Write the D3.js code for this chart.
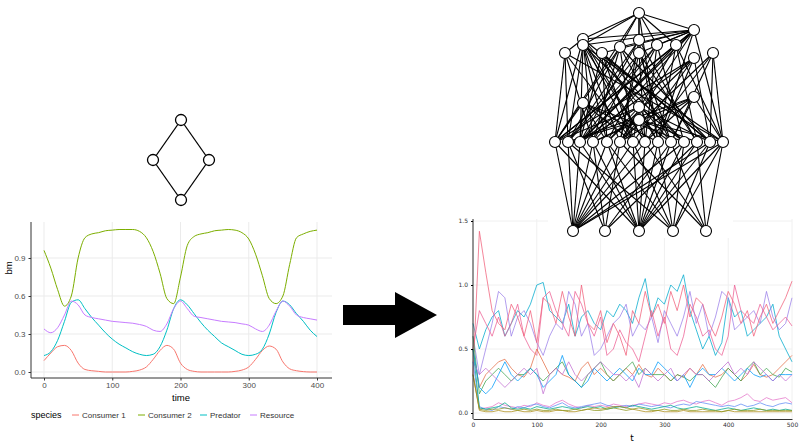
<!DOCTYPE html>
<html><head><meta charset="utf-8">
<script src="https://cdn.jsdelivr.net/npm/d3@7"></script>
<style>body{margin:0;background:#fff}</style></head>
<body><svg id="c" width="799" height="445"></svg>
<script>
// ---- left chart data (time step 10) ----
var leftTimes = d3.range(0, 401, 10);
var consumer1 = [0.09,0.15,0.2,0.21,0.17,0.07,0.02,0.01,0.005,0,0,0,0,0.005,0.015,0.04,0.1,0.17,0.21,0.18,0.07,0.02,0.005,0,0,0,0,0,0.005,0.015,0.04,0.1,0.17,0.205,0.18,0.08,0.025,0.01,0.003,0,0];
var consumer2 = [0.96,0.82,0.65,0.52,0.6,0.9,1.06,1.09,1.1,1.115,1.12,1.125,1.125,1.125,1.11,1.06,0.95,0.78,0.58,0.54,0.75,1.0,1.07,1.09,1.1,1.115,1.12,1.125,1.12,1.1,1.05,0.93,0.76,0.58,0.54,0.6,0.85,1.06,1.09,1.11,1.12];
var predator = [0.13,0.16,0.25,0.4,0.55,0.57,0.5,0.43,0.37,0.31,0.26,0.22,0.19,0.16,0.14,0.13,0.14,0.2,0.33,0.5,0.57,0.53,0.46,0.39,0.33,0.28,0.23,0.2,0.17,0.14,0.13,0.14,0.18,0.3,0.47,0.56,0.53,0.46,0.4,0.33,0.28];
var resource = [0.34,0.31,0.35,0.45,0.56,0.53,0.45,0.43,0.42,0.41,0.40,0.395,0.39,0.385,0.375,0.36,0.33,0.32,0.38,0.5,0.56,0.5,0.44,0.43,0.42,0.41,0.40,0.395,0.39,0.38,0.37,0.34,0.32,0.37,0.48,0.56,0.52,0.45,0.43,0.42,0.41];
var speciesNames = ["Consumer 1","Consumer 2","Predator","Resource"];
var speciesColors = ["#f8766d","#7cae00","#00bfc4","#c77cff"];
var leftXTicks = [0,100,200,300,400];
var leftYTicks = [0,0.3,0.6,0.9];

// ---- small graph ----
var smallNodes = [[0,1],[-1,0],[1,0],[0,-1]];
var smallEdges = [[0,1],[0,2],[1,3],[2,3]];

// ---- right chart data (time step 10) ----
var rightTimes = d3.range(0, 501, 10);
var rSeries = [
 {c:"#00a9cd", v:[0.7,0.5,0.65,0.75,0.8,0.6,0.7,0.8,0.75,0.85,1.0,1.02,0.8,0.75,0.7,0.85,0.6,0.75,0.8,0.7,0.65,0.8,0.75,0.85,0.8,0.7,0.9,1.05,0.75,0.9,0.85,1.0,0.95,1.08,0.8,0.65,0.5,0.6,0.45,0.55,0.9,0.75,0.8,0.6,0.65,0.7,0.75,0.85,0.6,0.5,0.4]},
 {c:"#9b7fe8", v:[0.6,0.3,0.5,0.7,0.95,0.9,0.6,0.75,0.8,0.7,0.55,0.45,0.6,0.7,0.65,0.95,0.85,0.6,0.7,0.45,0.5,0.6,0.7,0.75,0.85,0.6,0.7,0.65,0.75,0.55,0.8,0.7,0.6,0.75,0.95,0.7,0.85,0.6,0.75,0.95,0.9,0.65,0.7,0.75,0.8,0.7,0.95,0.75,0.65,0.7,0.9]},
 {c:"#ed5e93", v:[0.5,0.8,0.7,0.6,0.75,0.6,0.7,0.85,0.6,0.5,0.45,0.9,0.95,0.8,0.7,0.6,0.95,0.85,0.7,0.6,0.75,0.45,0.5,0.65,0.55,0.5,0.4,0.6,0.8,0.6,0.75,0.5,0.45,0.6,0.85,0.75,0.6,0.65,0.5,0.45,0.6,1.0,0.8,0.75,0.7,0.85,0.75,0.65,0.7,0.75,0.68]},
 {c:"#f0607a", v:[0.3,1.42,1.1,0.8,0.7,0.65,0.85,0.75,0.6,0.8,0.55,0.9,0.85,0.7,0.95,0.75,0.6,1.0,0.7,0.65,0.8,0.55,0.7,0.6,0.45,0.8,0.7,0.95,0.75,0.85,0.7,0.95,0.8,1.0,0.75,0.9,0.85,0.7,0.6,0.75,0.95,0.85,0.7,0.8,0.6,0.75,0.85,0.7,0.8,0.9,1.03]},
 {c:"#e36f47", v:[0.5,0.2,0.3,0.35,0.4,0.42,0.35,0.3,0.28,0.35,0.5,0.4,0.3,0.35,0.3,0.28,0.25,0.35,0.4,0.3,0.35,0.3,0.25,0.3,0.35,0.3,0.38,0.3,0.28,0.35,0.3,0.25,0.3,0.28,0.35,0.3,0.38,0.3,0.28,0.3,0.35,0.3,0.25,0.3,0.38,0.3,0.28,0.3,0.35,0.4,0.45]},
 {c:"#3ea44e", v:[0.6,0.15,0.25,0.3,0.35,0.3,0.25,0.3,0.3,0.35,0.3,0.25,0.3,0.35,0.4,0.3,0.25,0.2,0.3,0.35,0.4,0.3,0.25,0.3,0.35,0.4,0.3,0.35,0.3,0.3,0.3,0.25,0.3,0.28,0.25,0.3,0.3,0.25,0.2,0.28,0.35,0.3,0.25,0.35,0.4,0.3,0.35,0.3,0.28,0.35,0.32]},
 {c:"#009afa", v:[0.5,0.2,0.15,0.2,0.3,0.4,0.3,0.25,0.3,0.35,0.3,0.2,0.25,0.3,0.45,0.3,0.25,0.2,0.25,0.35,0.3,0.25,0.3,0.35,0.3,0.25,0.35,0.3,0.3,0.4,0.35,0.3,0.25,0.3,0.2,0.3,0.35,0.3,0.3,0.35,0.3,0.25,0.3,0.35,0.3,0.28,0.3,0.25,0.3,0.3,0.3]},
 {c:"#c271d2", v:[0.4,0.3,0.35,0.3,0.25,0.2,0.25,0.3,0.35,0.3,0.35,0.15,0.3,0.35,0.3,0.4,0.3,0.25,0.3,0.35,0.4,0.35,0.3,0.3,0.25,0.3,0.2,0.35,0.3,0.25,0.3,0.35,0.25,0.3,0.35,0.3,0.3,0.25,0.3,0.35,0.4,0.3,0.35,0.3,0.4,0.35,0.3,0.25,0.3,0.25,0.3]},
 {c:"#e575c9", v:[0.3,0.03,0.04,0.05,0.08,0.06,0.05,0.04,0.06,0.05,0.08,0.06,0.05,0.08,0.1,0.07,0.05,0.04,0.06,0.05,0.06,0.05,0.07,0.06,0.05,0.06,0.07,0.08,0.07,0.06,0.08,0.07,0.09,0.1,0.08,0.07,0.09,0.1,0.08,0.06,0.09,0.1,0.12,0.15,0.1,0.09,0.12,0.1,0.11,0.12,0.08]},
 {c:"#618df6", v:[0.4,0.05,0.03,0.02,0.05,0.04,0.03,0.05,0.04,0.06,0.07,0.05,0.04,0.06,0.08,0.05,0.04,0.05,0.06,0.07,0.08,0.06,0.05,0.05,0.06,0.05,0.07,0.06,0.05,0.06,0.05,0.04,0.06,0.07,0.06,0.09,0.08,0.07,0.06,0.05,0.06,0.05,0.07,0.05,0.06,0.08,0.06,0.05,0.07,0.08,0.07]},
 {c:"#00a98d", v:[0.5,0.04,0.03,0.04,0.05,0.08,0.04,0.03,0.04,0.03,0.05,0.04,0.03,0.04,0.05,0.04,0.03,0.04,0.05,0.04,0.05,0.03,0.04,0.05,0.04,0.06,0.05,0.04,0.03,0.04,0.05,0.06,0.04,0.03,0.04,0.05,0.04,0.03,0.02,0.03,0.04,0.03,0.02,0.03,0.04,0.03,0.02,0.03,0.02,0.03,0.02]},
 {c:"#ac8d18", v:[0.3,0.02,0.01,0.01,0.02,0.01,0.01,0.02,0.01,0.01,0.02,0.01,0.01,0.02,0.02,0.01,0.01,0.02,0.03,0.04,0.03,0.04,0.05,0.05,0.04,0.03,0.02,0.01,0.01,0.02,0.01,0.01,0.01,0.02,0.01,0.01,0.01,0.01,0.01,0.01,0.02,0.01,0.01,0.01,0.01,0.01,0.01,0.01,0.01,0.01,0.01]},
 {c:"#8e971d", v:[0.3,0.03,0.02,0.03,0.03,0.04,0.03,0.02,0.03,0.02,0.03,0.02,0.02,0.03,0.02,0.02,0.03,0.02,0.03,0.02,0.02,0.03,0.04,0.03,0.02,0.03,0.04,0.03,0.02,0.02,0.03,0.02,0.02,0.03,0.02,0.02,0.03,0.02,0.02,0.01,0.02,0.03,0.02,0.02,0.02,0.03,0.02,0.02,0.02,0.02,0.02]}
];
var rightXTicks = [0,100,200,300,400,500];
var rightYTicks = [0,0.5,1.0,1.5];

// ---- food web: node positions (in pixels of the web box) ----
var topNodes = [[639,13],[694,30],[583,39],[583,45],[639,40],[620,47],[657,45],[676,45],[565,53],[602,53],[713,53],[639,53],[694,58],[583,103],[694,97],[639,107],[639,120]];
var midNodes = [[555,142],[568,142],[580,142],[593,142],[607,142],[620,142],[633,142],[645,142],[658,142],[671,142],[684,142],[697,142],[710,142],[723,142]];
var botNodes = [[573,231],[605,231],[639,231],[673,231],[706,231]];
var botLinks = [[0,1,2,3,4,5,6,7,8,10,12,13],[1,3,5,9,11],[0,2,3,4,6,7,8,9,10,11,12,13],[1,4,6,8,10,12,13],[5,7,9,11,13]];
var topTopLinks = [[0,2],[0,3],[0,4],[0,5],[0,6],[0,7],[0,1],[0,11],[1,3],[1,9],[1,2],[2,8],[1,5],[1,6],[1,7],[1,11]];
var topMidLinks = [[0,8],[0,2,5,8,13,3],[0,3,6,9,12,7],[1,2,4,7,10,13,5],[2,5,8,11,1],[0,1,3,6,9,12],[1,4,7,10,2],[0,2,5,8,11,13],[0,1,3,13,6],[2,4,6,8,12,10],[5,9,12,13,7],[1,3,5,7,9,11],[0,2,4,8,12,6],[0,2,4,6,8,10],[1,3,5,7,9,13],[0,2,4,6,8,10,12],[1,3,5,7,9,11,13]];

var svg = d3.select("#c");
var fontL = "Liberation Sans, Arial, sans-serif";

// ===== left chart =====
var xL = d3.scaleLinear().domain([0,400]).range([44,317]);
var yL = d3.scaleLinear().domain([0,0.9]).range([372,258]);
var gL = svg.append("g");
gL.selectAll(".gx").data(leftXTicks).enter().append("line")
  .attr("x1",d=>xL(d)).attr("x2",d=>xL(d)).attr("y1",222).attr("y2",378)
  .attr("stroke","#ebebeb").attr("stroke-width",1);
gL.selectAll(".gy").data(leftYTicks).enter().append("line")
  .attr("y1",d=>yL(d)).attr("y2",d=>yL(d)).attr("x1",31).attr("x2",332)
  .attr("stroke","#ebebeb").attr("stroke-width",1);
var lineL = d3.line().x((d,i)=>xL(leftTimes[i])).y(d=>yL(d)).curve(d3.curveMonotoneX);
[consumer1,consumer2,predator,resource].forEach(function(s,k){
  gL.append("path").attr("d",lineL(s)).attr("fill","none")
    .attr("stroke",speciesColors[k]).attr("stroke-width",1);
});
gL.append("g").attr("transform","translate(0,378)")
  .call(d3.axisBottom(xL).tickValues(leftXTicks).tickSize(2.5).tickPadding(2).tickSizeOuter(0))
  .call(g=>g.select(".domain").attr("d","M31,0H332").attr("stroke","#333"))
  .call(g=>g.selectAll("text").attr("font-family",fontL).attr("font-size",8).attr("fill","#4d4d4d"))
  .call(g=>g.selectAll(".tick line").attr("stroke","#333"));
gL.append("g").attr("transform","translate(31,0)")
  .call(d3.axisLeft(yL).tickValues(leftYTicks).tickFormat(d3.format(".1f")).tickSize(2.5).tickSizeOuter(0))
  .call(g=>g.select(".domain").attr("d","M0,222V378").attr("stroke","#333"))
  .call(g=>g.selectAll("text").attr("font-family",fontL).attr("font-size",8).attr("fill","#4d4d4d"))
  .call(g=>g.selectAll(".tick line").attr("stroke","#333"));
gL.append("text").attr("x",181).attr("y",401).attr("text-anchor","middle")
  .attr("font-family",fontL).attr("font-size",9.5).text("time");
gL.append("text").attr("transform","translate(12,268) rotate(-90)").attr("text-anchor","middle")
  .attr("font-family",fontL).attr("font-size",9.5).text("bm");
gL.append("text").attr("x",31).attr("y",418).attr("font-family",fontL).attr("font-size",9).text("species");
var legX = [72,138,200,250];
speciesNames.forEach(function(n,k){
  gL.append("line").attr("x1",legX[k]).attr("x2",legX[k]+7).attr("y1",415).attr("y2",415)
    .attr("stroke",speciesColors[k]).attr("stroke-width",1);
  gL.append("text").attr("x",legX[k]+10).attr("y",418).attr("font-family",fontL)
    .attr("font-size",8).attr("fill","#333").text(n);
});

// small diamond graph
var xs = d3.scaleLinear().domain([-1,1]).range([153,209]);
var ys = d3.scaleLinear().domain([-1,1]).range([200,120]);
smallEdges.forEach(function(e){
  svg.append("line").attr("x1",xs(smallNodes[e[0]][0])).attr("y1",ys(smallNodes[e[0]][1]))
    .attr("x2",xs(smallNodes[e[1]][0])).attr("y2",ys(smallNodes[e[1]][1]))
    .attr("stroke","#000").attr("stroke-width",1.3);
});
svg.selectAll(".sn").data(smallNodes).enter().append("circle")
  .attr("cx",d=>xs(d[0])).attr("cy",d=>ys(d[1])).attr("r",5.5)
  .attr("fill","#fff").attr("stroke","#000").attr("stroke-width",1.3);

// arrow
svg.append("path").attr("d","M343,305H395V292L437,315L395,338V325H343Z").attr("fill","#000");

// ===== right chart =====
var xR = d3.scaleLinear().domain([0,500]).range([473,792]);
var yR = d3.scaleLinear().domain([0,1.5]).range([413,221]);
var gR = svg.append("g");
gR.selectAll(".rx").data(rightXTicks).enter().append("line")
  .attr("x1",d=>xR(d)).attr("x2",d=>xR(d)).attr("y1",219).attr("y2",419)
  .attr("stroke","#f0f0f0");
gR.selectAll(".ry").data(rightYTicks).enter().append("line")
  .attr("y1",d=>yR(d)).attr("y2",d=>yR(d)).attr("x1",473).attr("x2",792)
  .attr("stroke","#f0f0f0");
var lineR = d3.line().x((d,i)=>xR(rightTimes[i])).y(d=>yR(d));
rSeries.forEach(function(s){
  gR.append("path").attr("d",lineR(s.v)).attr("fill","none")
    .attr("stroke",s.c).attr("stroke-width",0.9).attr("stroke-opacity",0.85);
});
var fontR = "DejaVu Sans, sans-serif";
gR.append("g").attr("transform","translate(0,419)")
  .call(d3.axisBottom(xR).tickValues(rightXTicks).tickSize(0).tickPadding(4))
  .call(g=>g.select(".domain").attr("stroke","#333"))
  .call(g=>g.selectAll("text").attr("font-family",fontR).attr("font-size",6).attr("fill","#333"));
gR.append("g").attr("transform","translate(473,0)")
  .call(d3.axisLeft(yR).tickValues(rightYTicks).tickFormat(d3.format(".1f")).tickSize(2).tickSizeOuter(0))
  .call(g=>g.select(".domain").attr("d","M0,219V419").attr("stroke","#333"))
  .call(g=>g.selectAll("text").attr("font-family",fontR).attr("font-size",6).attr("fill","#333"));
gR.append("text").attr("x",632).attr("y",441).attr("text-anchor","middle")
  .attr("font-family",fontR).attr("font-size",9).text("t");

// ===== food web =====
var gW = svg.append("g");
gW.append("rect").attr("x",548).attr("y",0).attr("width",185).attr("height",238).attr("fill","#fff");
function edge(a,b){
  gW.append("line").attr("x1",a[0]).attr("y1",a[1]).attr("x2",b[0]).attr("y2",b[1])
    .attr("stroke","#000").attr("stroke-width",1.1);
}
botLinks.forEach((l,i)=>l.forEach(m=>edge(botNodes[i],midNodes[m])));
topTopLinks.forEach(p=>edge(topNodes[p[0]],topNodes[p[1]]));
topMidLinks.forEach((l,i)=>l.forEach(m=>edge(topNodes[i],midNodes[m])));
gW.selectAll(".wn").data(topNodes.concat(midNodes,botNodes)).enter().append("circle")
  .attr("cx",d=>d[0]).attr("cy",d=>d[1]).attr("r",5.5)
  .attr("fill","#fff").attr("stroke","#000").attr("stroke-width",1.1);
</script></body></html>
